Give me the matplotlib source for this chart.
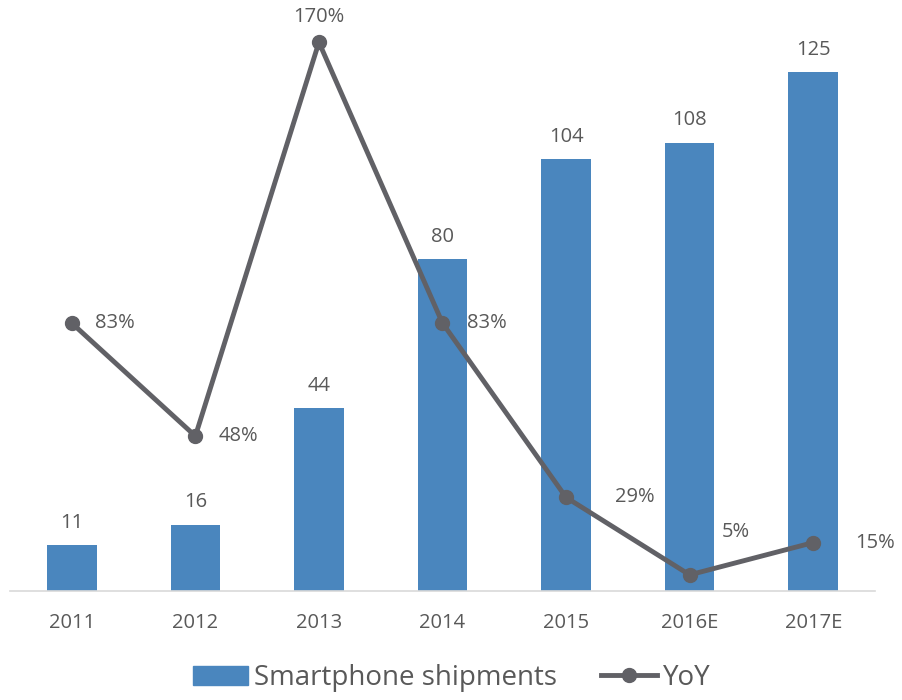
import matplotlib
matplotlib.use("Agg")
import matplotlib.pyplot as plt
from matplotlib.lines import Line2D
from matplotlib.patches import Patch

years = ["2011", "2012", "2013", "2014", "2015", "2016E", "2017E"]
shipments = [11, 16, 44, 80, 104, 108, 125]
yoy = [83, 48, 170, 83, 29, 5, 15]
yoy_labels = ["83%", "48%", "170%", "83%", "29%", "5%", "15%"]

plt.rcParams['font.family'] = ['Open Sans', 'DejaVu Sans']
bar_color = "#4a86be"
line_color = "#616166"
text_color = "#595959"

fig = plt.figure(figsize=(9.03, 7.0), dpi=100)
ax = fig.add_axes([10/903, 109/700, 865/903, 581/700])
x = list(range(len(years)))
ax.bar(x, shipments, width=0.40, color=bar_color, zorder=2)
ax.set_ylim(0, 140)
ax.set_xlim(-0.5, len(years) - 0.5)
for s in ["top", "right", "left"]:
    ax.spines[s].set_visible(False)
ax.spines["bottom"].set_color("#d9d9d9")
ax.spines["bottom"].set_linewidth(1.2)
ax.set_yticks([])
ax.set_xticks(x)
ax.set_xticklabels(years, fontsize=14.5, color=text_color)
ax.tick_params(axis="x", length=0, pad=16)
for xi, v in zip(x, shipments):
    ax.annotate(str(v), (xi, v), xytext=(0, 9), textcoords="offset points",
                ha="center", va="bottom", fontsize=14.5, color=text_color)

ax2 = ax.twinx()
ax2.set_ylim(0, 180)
ax2.plot(x, yoy, color=line_color, lw=3.5, marker="o", ms=10, zorder=3)
ax2.set_yticks([])
for s in ax2.spines.values():
    s.set_visible(False)
# offsets in points: (dx to left edge, dy to vertical centre)
offsets = [(17, 0), (17, 0), (0, 18), (18, 0), (35, 0), (23, 31), (30, 0)]
for xi, v, lab, off in zip(x, yoy, yoy_labels, offsets):
    ax2.annotate(lab, (xi, v), xytext=off, textcoords="offset points",
                 ha="center" if off[0] == 0 else "left", va="center",
                 fontsize=14.5, color=text_color)

handles = [Patch(color=bar_color, label="Smartphone shipments"),
           Line2D([0], [0], color=line_color, lw=3.5, marker="o", ms=10, label="YoY")]
fig.legend(handles=handles, loc="center", bbox_to_anchor=(0.5, 22/700), ncol=2,
           frameon=False, fontsize=20, labelcolor=text_color, handlelength=2.0,
           handletextpad=0.2, columnspacing=1.6)

fig.savefig("out.png", dpi=100)
